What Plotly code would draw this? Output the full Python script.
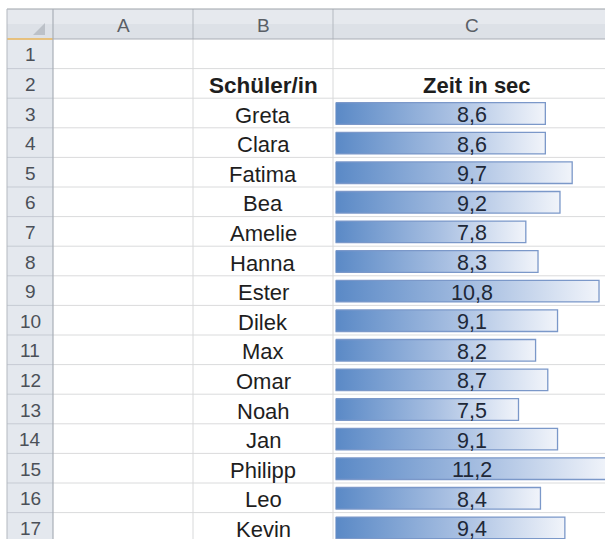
import plotly.graph_objects as go

# ---- data ----
column_labels = ["A", "B", "C"]
row_labels = [str(i) for i in range(1, 18)]
header_name = "Schüler/in"
header_time = "Zeit in sec"
students = ["Greta", "Clara", "Fatima", "Bea", "Amelie", "Hanna", "Ester", "Dilek",
            "Max", "Omar", "Noah", "Jan", "Philipp", "Leo", "Kevin"]
times = [8.6, 8.6, 9.7, 9.2, 7.8, 8.3, 10.8, 9.1, 8.2, 8.7, 7.5, 9.1, 11.2, 8.4, 9.4]
first_data_row = 3

# ---- geometry (pixels of the 605x539 view) ----
W, H = 605, 539
ROW_TOP = 39.0
ROW_H = 29.6
HDR_TOP = 9.0
LEFT = 7.0
ROWHDR_R = 53.0
COL_EDGES = [53.0, 193.0, 333.0, 611.0]
BAR_X0 = 335.5
PX_PER_UNIT = 24.4
FONT = "Liberation Sans, Arial, sans-serif"


def px(x):
    return x / W


def u(py):
    return (py - ROW_TOP) / ROW_H


fig = go.Figure()

# data bars with gradient fill
for i, (name, v) in enumerate(zip(students, times)):
    r = first_data_row + i
    top = (r - 1) + 4.5 / ROW_H
    bot = r - 3.5 / ROW_H
    fig.add_trace(go.Scatter(
        x=[0, v, v, 0, 0], y=[top, top, bot, bot, top],
        mode="lines", fill="toself",
        fillgradient=dict(type="horizontal",
                          colorscale=[[0, "#5a89c6"], [0.55, "#a9c0e2"], [1, "#f1f4fa"]]),
        line=dict(color="#7b98c9", width=1.3),
        hoverinfo="skip", showlegend=False, name=name,
    ))

shapes = []
# header backgrounds
shapes.append(dict(type="rect", xref="paper", yref="y", x0=px(LEFT), x1=1.0,
                   y0=u(HDR_TOP), y1=u(24), fillcolor="#e6e9ee", line_width=0, layer="below"))
shapes.append(dict(type="rect", xref="paper", yref="y", x0=px(LEFT), x1=1.0,
                   y0=u(24), y1=u(ROW_TOP), fillcolor="#dde1e7", line_width=0, layer="below"))
shapes.append(dict(type="rect", xref="paper", yref="y", x0=px(LEFT), x1=px(ROWHDR_R),
                   y0=u(ROW_TOP), y1=u(H + 5), fillcolor="#e4e8ee", line_width=0, layer="below"))

# horizontal gridlines
for k in range(1, 18):
    shapes.append(dict(type="line", xref="paper", yref="y", x0=px(ROWHDR_R), x1=1.0,
                       y0=k, y1=k, line=dict(color="#dadbdc", width=1), layer="below"))
    shapes.append(dict(type="line", xref="paper", yref="y", x0=px(LEFT), x1=px(ROWHDR_R),
                       y0=k, y1=k, line=dict(color="#c6cbd3", width=1), layer="below"))

# vertical gridlines in cell area
for xe in COL_EDGES[1:3]:
    shapes.append(dict(type="line", xref="paper", yref="y", x0=px(xe), x1=px(xe),
                       y0=u(ROW_TOP), y1=u(H + 5), line=dict(color="#d8d9da", width=1), layer="below"))
    shapes.append(dict(type="line", xref="paper", yref="y", x0=px(xe), x1=px(xe),
                       y0=u(HDR_TOP), y1=u(ROW_TOP), line=dict(color="#b4b9c0", width=1), layer="below"))

# header borders
shapes.append(dict(type="line", xref="paper", yref="y", x0=px(LEFT), x1=1.0,
                   y0=u(HDR_TOP), y1=u(HDR_TOP), line=dict(color="#9ea3aa", width=1.2), layer="below"))
shapes.append(dict(type="line", xref="paper", yref="y", x0=px(ROWHDR_R), x1=1.0,
                   y0=0, y1=0, line=dict(color="#a9aeb6", width=1.2), layer="below"))
shapes.append(dict(type="line", xref="paper", yref="y", x0=px(LEFT), x1=px(ROWHDR_R),
                   y0=0, y1=0, line=dict(color="#e9b45a", width=1.5), layer="below"))
shapes.append(dict(type="line", xref="paper", yref="y", x0=px(ROWHDR_R), x1=px(ROWHDR_R),
                   y0=u(HDR_TOP), y1=u(H + 5), line=dict(color="#a9afb7", width=1.2), layer="below"))
shapes.append(dict(type="line", xref="paper", yref="y", x0=px(LEFT), x1=px(LEFT),
                   y0=u(HDR_TOP), y1=u(H + 5), line=dict(color="#b3b8bf", width=1), layer="below"))

# corner triangle
x0t, x1t = px(33), px(45)
y0t, y1t = u(23), u(35)
shapes.append(dict(type="path", xref="paper", yref="y",
                   path=f"M {x1t} {y0t} L {x1t} {y1t} L {x0t} {y1t} Z",
                   fillcolor="#bcc1c8", line_width=0, layer="below"))

annotations = []


def label(x, y, text, size, color, yshift=-2):
    return dict(x=px(x), y=y, xref="paper", yref="y", text=text, showarrow=False,
                xanchor="center", yanchor="middle", yshift=yshift,
                font=dict(family=FONT, size=size, color=color))


# column letters
for j, lab in enumerate(column_labels):
    cx = (COL_EDGES[j] + COL_EDGES[j + 1]) / 2
    annotations.append(label(cx, u((HDR_TOP + ROW_TOP) / 2), lab, 19, "#5a5f66", -1))
# row numbers
for k, lab in enumerate(row_labels):
    annotations.append(label(30, k + 0.5, lab, 19, "#4b5058", -1))
# header texts
annotations.append(label(263, 1.5, f"<b>{header_name}</b>", 22.5, "#1e1e1e"))
annotations.append(label(477, 1.5, f"<b>{header_time}</b>", 22, "#1e1e1e"))
# names and values
for i, (name, v) in enumerate(zip(students, times)):
    r = first_data_row + i
    annotations.append(label(263, r - 0.5, name, 22, "#1e1e1e"))
    annotations.append(label(472, r - 0.5, f"{v:.1f}".replace(".", ","), 21.5, "#202838"))

fig.update_layout(
    width=W, height=H,
    margin=dict(l=0, r=0, t=0, b=0),
    paper_bgcolor="white", plot_bgcolor="rgba(0,0,0,0)",
    xaxis=dict(domain=[px(BAR_X0), 1.0], range=[0, (W - BAR_X0) / PX_PER_UNIT],
               visible=False, fixedrange=True),
    yaxis=dict(domain=[0, 1], range=[u(H), u(0)], visible=False, fixedrange=True),
    shapes=shapes, annotations=annotations,
    separators=",.",
    showlegend=False,
)

fig.write_html(
    "out.html",
    config={"displayModeBar": False},
    post_script=("document.documentElement.style.overflow='hidden';"
                 "document.body.style.margin='0';"
                 "document.body.style.overflow='hidden';"),
)
